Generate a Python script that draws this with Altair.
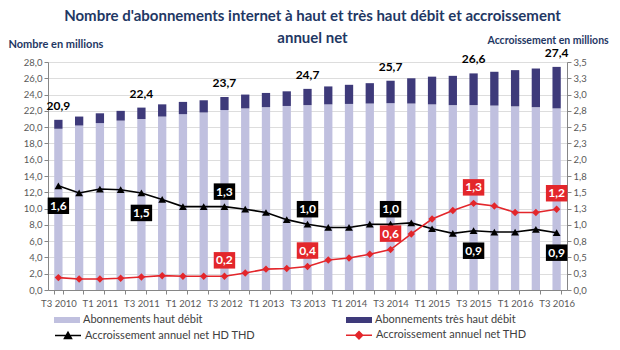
import altair as alt
import pandas as pd

quarters = ["T3 2010", "T4 2010", "T1 2011", "T2 2011", "T3 2011", "T4 2011",
            "T1 2012", "T2 2012", "T3 2012", "T4 2012", "T1 2013", "T2 2013",
            "T3 2013", "T4 2013", "T1 2014", "T2 2014", "T3 2014", "T4 2014",
            "T1 2015", "T2 2015", "T3 2015", "T4 2015", "T1 2016", "T2 2016",
            "T3 2016"]
total = [20.9, 21.3, 21.7, 22.0, 22.4, 22.8, 23.1, 23.3, 23.7, 24.0, 24.2, 24.4,
         24.7, 25.0, 25.2, 25.4, 25.7, 26.0, 26.2, 26.3, 26.6, 26.8, 27.0, 27.2, 27.4]
hd = [19.8, 20.2, 20.5, 20.8, 21.0, 21.3, 21.6, 21.8, 22.1, 22.3, 22.45, 22.6,
      22.7, 22.8, 22.85, 22.9, 22.95, 22.9, 22.8, 22.7, 22.7, 22.65, 22.55, 22.45, 22.3]
growth_all = [1.60, 1.49, 1.55, 1.54, 1.49, 1.39, 1.28, 1.28, 1.28, 1.24, 1.19, 1.08,
              1.01, 0.96, 0.96, 1.01, 1.01, 1.03, 0.94, 0.87, 0.91, 0.89, 0.89, 0.93, 0.88]
growth_thd = [0.19, 0.17, 0.17, 0.18, 0.20, 0.22, 0.21, 0.21, 0.21, 0.26, 0.32, 0.33,
              0.36, 0.46, 0.49, 0.55, 0.62, 0.86, 1.09, 1.22, 1.33, 1.29, 1.19, 1.19, 1.24]

BAR_HD = "Abonnements haut débit"
BAR_THD = "Abonnements très haut débit"
LINE_ALL = "Accroissement annuel net HD THD"
LINE_THD = "Accroissement annuel net THD"

FONT = "Lato"
NAVY = "#1F3864"
C_HD = "#C0C0DF"
C_THD = "#3E3A7A"
C_RED = "#E3262B"

rows = []
for q, t, h in zip(quarters, total, hd):
    rows.append({"q": q, "serie": BAR_HD, "v": h, "ord": 0})
    rows.append({"q": q, "serie": BAR_THD, "v": round(t - h, 2), "ord": 1})
bars_df = pd.DataFrame(rows)
tot_df = pd.DataFrame({"q": quarters, "total": total})

lrows = []
for q, a, t in zip(quarters, growth_all, growth_thd):
    lrows.append({"q": q, "serie": LINE_ALL, "v": a})
    lrows.append({"q": q, "serie": LINE_THD, "v": t})
lines_df = pd.DataFrame(lrows)
legend_df = pd.DataFrame({"q": [quarters[0], quarters[0]], "serie": [LINE_ALL, LINE_THD],
                          "v": [None, None]})

fr = "replace(format(datum.{f}, '.1f'), '.', ',')"

x_axis = alt.Axis(
    title=None, labelAngle=0, tickBand="extent", labelOverlap=False,
    labelExpr="(indexof(datum.label, 'T2') == 0 || indexof(datum.label, 'T4') == 0) ? '' : datum.label",
    labelFontSize=9.5, labelColor="#595959", labelPadding=4,
    domainColor="#868686", tickColor="#868686", tickSize=4,
)
x_scale = alt.Scale(paddingInner=0.6, paddingOuter=0.3)
xq = alt.X("q:N", sort=quarters, scale=x_scale, axis=x_axis)

left_axis = alt.Axis(values=list(range(0, 29, 2)), labelOverlap=False,
                     labelExpr="replace(format(datum.value, '.1f'), '.', ',')",
                     title="Nombre en millions", titleAngle=0, titleAlign="left",
                     titleBaseline="middle", titleX=-40, titleY=-18,
                     titleFontSize=11, titleFontWeight="bold", titleColor=NAVY,
                     labelFontSize=9.5, labelColor="#595959",
                     domainColor="#868686", tickColor="#868686", tickSize=4)
left_scale = alt.Scale(domain=[0, 28], nice=False)

right_axis = alt.Axis(orient="right", values=[i * 0.25 for i in range(15)],
                      labelOverlap=False,
                      labelExpr="replace(format(datum.value, '.1f'), '.', ',')",
                      title="Accroissement en millions", titleAngle=0, titleAlign="left",
                      titleBaseline="middle", titleX=-80, titleY=-22,
                      titleFontSize=10.5, titleFontWeight="bold", titleColor=NAVY,
                      labelFontSize=9.5, labelColor="#595959",
                      domainColor="#868686", tickColor="#868686", tickSize=4)
right_scale = alt.Scale(domain=[0, 3.5], nice=False)
yv = alt.Y("v:Q", scale=right_scale, axis=right_axis)

RECT = "M-1,-0.23L1,-0.23L1,0.23L-1,0.23Z"
TRI = "M-1,0L1,0M-0.27,0.22L0,-0.26L0.27,0.22Z"
DIA = "M-1,0L1,0M0,-0.28L0.28,0L0,0.28L-0.28,0Z"
BOX = "M-1.3,-1L1.3,-1L1.3,1L-1.3,1Z"

bars = alt.Chart(bars_df).mark_bar().encode(
    x=xq,
    y=alt.Y("v:Q", stack="zero", scale=left_scale, axis=left_axis),
    color=alt.Color("serie:N",
                    scale=alt.Scale(domain=[BAR_HD, BAR_THD], range=[C_HD, C_THD]),
                    legend=alt.Legend(title=None, orient="none", legendX=6, legendY=245,
                                      direction="horizontal", columns=2, columnPadding=143,
                                      symbolType=RECT, symbolSize=676, symbolStrokeWidth=0,
                                      labelFontSize=11, labelColor="#404040", labelFont=FONT,
                                      labelOffset=3, padding=0, labelLimit=300)),
    order=alt.Order("ord:Q"),
)

totals = alt.Chart(tot_df).transform_filter(
    "indexof(datum.q, 'T3') == 0"
).transform_calculate(
    lab=fr.format(f="total")
).mark_text(fontSize=12, fontWeight="bold", color="black", dy=-10,
            baseline="alphabetic", font=FONT).encode(
    x=xq, y=alt.Y("total:Q", scale=left_scale, axis=left_axis), text="lab:N",
)

left = alt.layer(bars, totals)

lines = alt.Chart(lines_df).mark_line(strokeWidth=1.6).encode(
    x=xq, y=yv,
    color=alt.Color("serie:N",
                    scale=alt.Scale(domain=[LINE_ALL, LINE_THD], range=["#000000", C_RED]),
                    legend=None),
)


def pts(serie, shape, col, size):
    return alt.Chart(lines_df).transform_filter(
        alt.FieldEqualPredicate(field="serie", equal=serie)
    ).mark_point(filled=True, opacity=1, size=size, shape=shape, color=col).encode(
        x=xq, y=yv)


leg_props = dict(title=None, orient="none", legendX=6, legendY=259,
                 direction="horizontal", columns=2, columnPadding=88,
                 symbolSize=676, symbolStrokeWidth=1.5,
                 labelFontSize=11, labelColor="#404040", labelFont=FONT,
                 labelOffset=3, padding=0, labelLimit=300)
dom = [LINE_ALL, LINE_THD]
legend_layer = alt.Chart(legend_df).mark_point(filled=True, opacity=1).encode(
    x=xq, y=yv,
    fill=alt.Fill("serie:N", scale=alt.Scale(domain=dom, range=["#000000", C_RED]),
                  legend=alt.Legend(**leg_props)),
    stroke=alt.Stroke("serie:N", scale=alt.Scale(domain=dom, range=["#000000", C_RED]),
                      legend=alt.Legend(**leg_props)),
    shape=alt.Shape("serie:N", scale=alt.Scale(domain=dom, range=[TRI, DIA]),
                    legend=alt.Legend(**leg_props)),
)


def box_layer(serie, qs, off, col):
    base = alt.Chart(lines_df).transform_filter(
        alt.FieldEqualPredicate(field="serie", equal=serie)
    ).transform_filter(
        alt.FieldOneOfPredicate(field="q", oneOf=qs)
    ).transform_calculate(lab=fr.format(f="v"))
    box = base.mark_point(shape=BOX, size=272, filled=True, opacity=1, color=col,
                          yOffset=off).encode(x=xq, y=yv)
    txt = base.mark_text(color="white", fontWeight="bold", fontSize=12, font=FONT,
                         dy=off, baseline="middle").encode(
        x=xq, y=yv, text="lab:N")
    return [box, txt]


black_above = ["T3 2012", "T3 2013", "T3 2014"]
black_below = ["T3 2010", "T3 2011", "T3 2015", "T3 2016"]
red_above = ["T3 2012", "T3 2013", "T3 2014", "T3 2015", "T3 2016"]

right = alt.layer(
    lines,
    pts(LINE_ALL, "triangle-up", "#000000", 60),
    pts(LINE_THD, "diamond", C_RED, 55),
    legend_layer,
    *box_layer(LINE_ALL, black_above, -15, "#000000"),
    *box_layer(LINE_ALL, black_below, 20, "#000000"),
    *box_layer(LINE_THD, red_above, -16, C_RED),
)

chart = alt.layer(left, right).resolve_scale(
    y="independent", color="independent"
).properties(
    width=519, height=228,
    padding={"left": 48, "top": 62, "right": 53, "bottom": 60},
    autosize=alt.AutoSizeParams(type="none"),
    title=alt.TitleParams(
        text=["Nombre d'abonnements internet à haut et très haut débit et accroissement",
              "annuel net"],
        fontSize=15, font=FONT, fontWeight="bold", color=NAVY, anchor="middle",
        lineHeight=22, dx=5, dy=15, offset=4,
    ),
).configure_view(stroke=None).configure_axis(labelOverlap=False).configure(font=FONT)

chart.save("out.html", embed_options={"renderer": "svg", "actions": False})
